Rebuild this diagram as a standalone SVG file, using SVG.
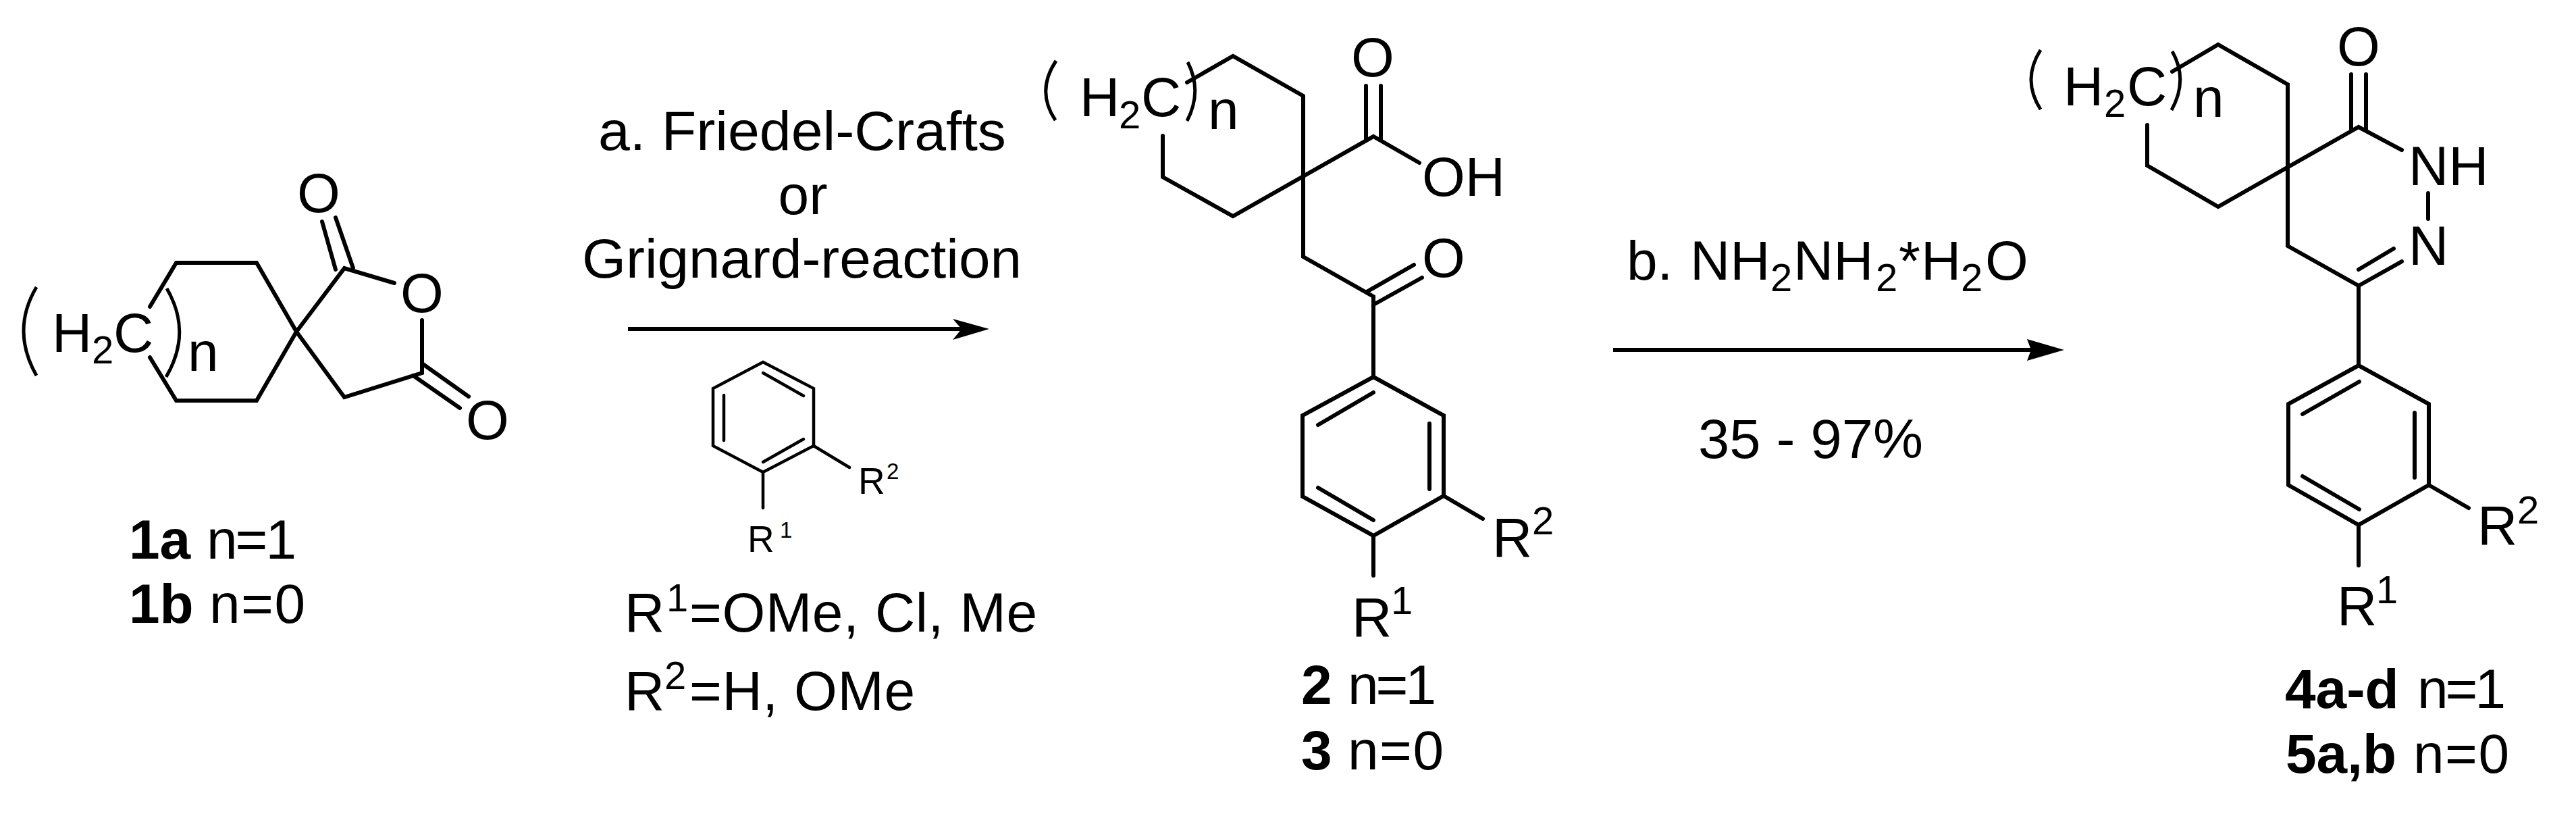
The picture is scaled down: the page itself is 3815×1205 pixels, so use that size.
<svg xmlns="http://www.w3.org/2000/svg" width="3815" height="1205" viewBox="0 0 3815 1205">
<style>
text{font-family:"Liberation Sans",Arial,sans-serif;fill:#000;font-size:82px}
.s{font-size:58px}
.m{text-anchor:middle}
.r{font-size:55px}
.rs{font-size:33px}
.b{font-weight:bold}
.bond{fill:none;stroke:#000;stroke-width:6;stroke-linecap:round;stroke-linejoin:miter}
.thin{stroke-width:4.5}
.brk{fill:none;stroke:#000;stroke-width:5;stroke-linecap:butt}
.arrow{fill:none;stroke:#000;stroke-width:6}
.head{fill:#000;stroke:none}
</style>
<rect width="3815" height="1205" fill="#fff"/>
<g id="connectors">
<path class="arrow" d="M930 487H1425"/>
<path class="head" d="M1465 487L1411 472L1424 487L1411 503Z"/>
<path class="arrow" d="M2389 518H3015"/>
<path class="head" d="M3057 518L3002 502L3008 518L3002 534Z"/>
</g>
<g id="node-1">
<path class="bond" d="M222 454L261 389H380L439 491L380 593H261L222 529M439 491L510 397L584 419M439 491L510 588L625 552V474"/>
<path class="bond" d="M477 328L497 399M497 322L523 397M625 538L694 587M612 556L681 604"/>
<path class="brk" d="M54 425Q16 489 54 556M247 427Q285 492 246 558"/>
<text x="77" y="521">H</text><text class="s" x="136" y="538">2</text><text x="168" y="521">C</text><text x="278" y="549">n</text>
<text class="m" x="472" y="314">O</text><text class="m" x="625" y="462">O</text><text class="m" x="722" y="650">O</text>
<text class="b" x="191" y="827">1a</text><text x="306" y="827" textLength="133">n=1</text>
<text class="b" x="191" y="922">1b</text><text x="310" y="922" textLength="142">n=0</text>
</g>
<g id="reagent-a">
<text x="886" y="222" textLength="604" lengthAdjust="spacingAndGlyphs">a. Friedel-Crafts</text>
<text class="m" x="1189" y="317">or</text>
<text x="862" y="411" textLength="651" lengthAdjust="spacingAndGlyphs">Grignard-reaction</text>
<path class="bond thin" d="M1130 536L1205 575V660L1130 699L1056 660V575ZM1130 552L1190 586M1072 585V652M1130 684L1190 650M1205 660L1258 692M1130 699V752"/>
<text class="r" x="1271" y="731">R</text><text class="rs" x="1313" y="709">2</text>
<text class="r" x="1107" y="817">R</text><text class="rs" x="1155" y="796">1</text>
<text x="925" y="935">R</text><text class="s" x="987" y="905">1</text><text x="1021" y="935" textLength="515">=OMe, Cl, Me</text>
<text x="925" y="1051">R</text><text class="s" x="984" y="1020">2</text><text x="1021" y="1051" textLength="334">=H, OMe</text>
</g>
<g id="node-2">
<path class="bond" d="M1758 122L1826 83L1930 142V380L2034 439V558M1722 201V262L1826 320L2034 202L2102 241"/>
<path class="bond" d="M2023 127V205M2045 127V207M2024 432L2094 392M2036 450L2106 411"/>
<path class="bond" d="M2034 558L2138 615V734L2034 793L1929 735V615ZM1952 629L2034 581M2117 627V724M1952 722L2034 770M2138 734L2196 768M2034 793V852"/>
<path class="brk" d="M1564 90Q1534 135 1563 178M1759 92Q1781 135 1758 179"/>
<text x="1599" y="172">H</text><text class="s" x="1657" y="190">2</text><text x="1690" y="172">C</text><text x="1789" y="191">n</text>
<text class="m" x="2033" y="113">O</text><text x="2106" y="290">OH</text><text class="m" x="2138" y="410">O</text>
<text x="2210" y="824">R</text><text class="s" x="2269" y="791">2</text>
<text x="2002" y="942">R</text><text class="s" x="2060" y="909">1</text>
<text class="b" x="1927" y="1042">2</text><text x="1996" y="1042" textLength="131">n=1</text>
<text class="b" x="1927" y="1139">3</text><text x="1996" y="1139" textLength="142">n=0</text>
</g>
<g id="reagent-b">
<text x="2409" y="414">b.</text><text x="2503" y="414">NH</text><text class="s" x="2622" y="431">2</text>
<text x="2656" y="414">NH</text><text class="s" x="2778" y="431">2</text>
<text x="2812" y="414">*</text><text x="2845" y="414">H</text><text class="s" x="2904" y="431">2</text><text x="2940" y="414">O</text>
<text x="2515" y="678" textLength="333" lengthAdjust="spacingAndGlyphs">35 - 97%</text>
</g>
<g id="node-4">
<path class="bond" d="M3217 106L3285 66L3388 125V364L3493 423V541M3180 185V245L3285 306L3493 188L3557 222"/>
<path class="bond" d="M3482 110V191M3504 110V191M3493 423L3557 387M3493 399L3545 368M3596 286V324"/>
<path class="bond" d="M3493 541L3597 598V718L3493 777L3389 718V598ZM3410 613L3494 565M3576 611V707M3410 705L3494 754M3597 718L3656 752M3493 777V837"/>
<path class="brk" d="M3022 74Q2994 118 3022 162M3217 76Q3241 118 3216 163"/>
<text x="3056" y="156">H</text><text class="s" x="3116" y="173">2</text><text x="3150" y="156">C</text><text x="3248" y="173">n</text>
<text class="m" x="3493" y="97">O</text><text x="3567" y="274">NH</text><text x="3567" y="392">N</text>
<text x="3669" y="806">R</text><text class="s" x="3728" y="775">2</text>
<text x="3461" y="925">R</text><text class="s" x="3519" y="893">1</text>
<text class="b" x="3384" y="1048">4a-d</text><text x="3580" y="1048" textLength="131">n=1</text>
<text class="b" x="3385" y="1144">5a,b</text><text x="3574" y="1144" textLength="142">n=0</text>
</g>
</svg>
